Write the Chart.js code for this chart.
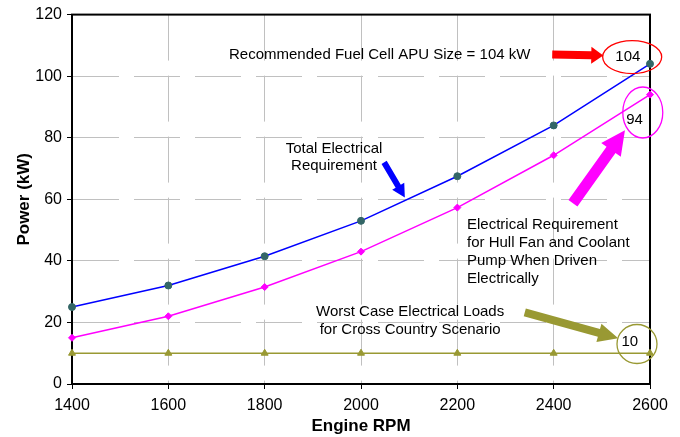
<!DOCTYPE html>
<html>
<head>
<meta charset="utf-8">
<script src="https://cdn.jsdelivr.net/npm/chart.js@4/dist/chart.umd.min.js"></script>
<style>
  html, body { margin: 0; padding: 0; background: #fff; }
  #chart { display: block; }
</style>
</head>
<body>
<canvas id="chart" width="680" height="437"></canvas>
<script>
// data
var rpm = [1400, 1600, 1800, 2000, 2200, 2400, 2600];
var totalElectrical = [25, 32, 41.5, 53, 67.5, 84, 104];
var hullFanCoolant = [15, 22, 31.5, 43, 57.3, 74.3, 94];
var worstCaseLoads = [10, 10, 10, 10, 10, 10, 10];
var yTicks = [0, 20, 40, 60, 80, 100, 120];

var FONT = "'Liberation Sans', Arial, sans-serif";

function toPoints(values) {
    return rpm.map(function (r, i) { return { x: r, y: values[i] }; });
}

// callouts, placed in data units (x = rpm, y = kW)
var callouts = [
    { type: 'text', x: 1726, y: 107, lines: ['Recommended Fuel Cell APU Size = 104 kW'], align: 'left' },
    { type: 'arrow', x1: 2397, y1: 107, x2: 2503, y2: 106.7, color: '#FF0000', shaft: 8, head: 17, len: 12 },
    { type: 'ellipse', x: 2563, y: 106.2, rx: 29.5, ry: 16.5, color: '#FF0000' },
    { type: 'text', x: 2554, y: 106.4, lines: ['104'], align: 'center' },

    { type: 'text', x: 1944, y: 76.5, lines: ['Total Electrical', 'Requirement'], align: 'center' },
    { type: 'arrow', x1: 2048, y1: 72, x2: 2091, y2: 60.6, color: '#0000FF', shaft: 6, head: 14, len: 13 },

    { type: 'ellipse', x: 2585, y: 88.2, rx: 20, ry: 25.5, color: '#FF00FF' },
    { type: 'text', x: 2568, y: 85.9, lines: ['94'], align: 'center' },
    { type: 'arrow', x1: 2440, y1: 58.7, x2: 2548, y2: 82.4, color: '#FF00FF', shaft: 11, head: 24, len: 24 },
    { type: 'text', x: 2220, y: 51.6, lines: ['Electrical Requirement', 'for Hull Fan and Coolant', 'Pump When Driven', 'Electrically'], align: 'left' },

    { type: 'text', x: 2102, y: 23.3, lines: ['Worst Case Electrical Loads', 'for Cross Country Scenario'], align: 'center' },
    { type: 'arrow', x1: 2340, y1: 23.3, x2: 2534, y2: 14.9, color: '#999933', shaft: 8, head: 19, len: 20 },
    { type: 'ellipse', x: 2573, y: 13, rx: 20, ry: 19.5, color: '#999933' },
    { type: 'text', x: 2558, y: 13.6, lines: ['10'], align: 'center' }
];

function drawArrow(ctx, ax, ay, bx, by, c) {
    var dx = bx - ax, dy = by - ay;
    var L = Math.sqrt(dx * dx + dy * dy);
    var ux = dx / L, uy = dy / L;
    var nx = -uy, ny = ux;
    var hx = bx - ux * c.len, hy = by - uy * c.len;
    var s = c.shaft / 2, h = c.head / 2;
    ctx.beginPath();
    ctx.moveTo(ax + nx * s, ay + ny * s);
    ctx.lineTo(hx + nx * s, hy + ny * s);
    ctx.lineTo(hx + nx * h, hy + ny * h);
    ctx.lineTo(bx, by);
    ctx.lineTo(hx - nx * h, hy - ny * h);
    ctx.lineTo(hx - nx * s, hy - ny * s);
    ctx.lineTo(ax - nx * s, ay - ny * s);
    ctx.closePath();
    ctx.fillStyle = c.color;
    ctx.fill();
}

var framePlugin = {
    id: 'frame',
    beforeDatasetsDraw: function (chart) {
        var a = chart.chartArea, ctx = chart.ctx;
        ctx.save();
        ctx.strokeStyle = '#000';
        ctx.lineWidth = 2;
        ctx.strokeRect(a.left, a.top, a.right - a.left, a.bottom - a.top);
        ctx.restore();
    }
};

var calloutPlugin = {
    id: 'callouts',
    afterDatasetsDraw: function (chart) {
        var ctx = chart.ctx;
        var xs = chart.scales.x, ys = chart.scales.y;
        ctx.save();
        callouts.forEach(function (c) {
            if (c.type === 'text') {
                ctx.font = '15px ' + FONT;
                ctx.fillStyle = '#000';
                ctx.textAlign = c.align;
                ctx.textBaseline = 'middle';
                var px = xs.getPixelForValue(c.x), py = ys.getPixelForValue(c.y);
                c.lines.forEach(function (t, i) { ctx.fillText(t, px, py + i * 17.8); });
            } else if (c.type === 'arrow') {
                drawArrow(ctx, xs.getPixelForValue(c.x1), ys.getPixelForValue(c.y1),
                    xs.getPixelForValue(c.x2), ys.getPixelForValue(c.y2), c);
            } else if (c.type === 'ellipse') {
                ctx.beginPath();
                ctx.ellipse(xs.getPixelForValue(c.x), ys.getPixelForValue(c.y), c.rx, c.ry, 0, 0, Math.PI * 2);
                ctx.strokeStyle = c.color;
                ctx.lineWidth = 1.3;
                ctx.stroke();
            }
        });
        ctx.restore();
    }
};

new Chart(document.getElementById('chart'), {
    type: 'line',
    data: {
        datasets: [{
            label: 'Total Electrical Requirement',
            data: toPoints(totalElectrical),
            borderColor: '#0000FF',
            borderWidth: 1.5,
            pointStyle: 'circle',
            pointRadius: 3.5,
            pointBackgroundColor: '#336666',
            pointBorderColor: '#336666',
            pointBorderWidth: 1
        }, {
            label: 'Hull Fan and Coolant Pump',
            data: toPoints(hullFanCoolant),
            borderColor: '#FF00FF',
            borderWidth: 1.5,
            pointStyle: 'rectRot',
            pointRadius: 3.5,
            pointBackgroundColor: '#FF00FF',
            pointBorderColor: '#FF00FF',
            pointBorderWidth: 1
        }, {
            label: 'Worst Case Electrical Loads',
            data: toPoints(worstCaseLoads),
            borderColor: '#999933',
            borderWidth: 1.5,
            pointStyle: 'triangle',
            pointRadius: 4,
            pointBackgroundColor: '#999933',
            pointBorderColor: '#999933',
            pointBorderWidth: 1
        }]
    },
    options: {
        responsive: false,
        animation: false,
        devicePixelRatio: 1,
        clip: false,
        layout: { padding: { left: 4, top: 14, right: 30, bottom: 0 } },
        plugins: {
            legend: { display: false },
            tooltip: { enabled: false }
        },
        scales: {
            x: {
                type: 'linear',
                min: rpm[0],
                max: rpm[rpm.length - 1],
                afterFit: function (s) { s.height = 53; },
                ticks: {
                    stepSize: 200,
                    padding: 7,
                    color: '#000',
                    font: { family: FONT, size: 16 },
                    callback: function (v) { return String(v); }
                },
                grid: { color: '#c0c0c0', lineWidth: 1, tickLength: 5, tickColor: '#000', tickBorderDash: [] },
                border: { color: '#000', width: 2, dash: [46, 15] },
                title: {
                    display: true,
                    text: 'Engine RPM',
                    color: '#000',
                    font: { family: FONT, size: 17, weight: 'bold' },
                    padding: { top: 0, bottom: 0 }
                }
            },
            y: {
                min: yTicks[0],
                max: yTicks[yTicks.length - 1],
                afterFit: function (s) { s.width = 68; },
                afterBuildTicks: function (s) { s.ticks = yTicks.map(function (v) { return { value: v }; }); },
                ticks: {
                    padding: 5,
                    color: '#000',
                    font: { family: FONT, size: 16 }
                },
                grid: { color: '#c0c0c0', lineWidth: 1, tickLength: 5, tickColor: '#000', tickBorderDash: [] },
                border: { color: '#000', width: 2, dash: [46, 15] },
                title: {
                    display: true,
                    text: 'Power (kW)',
                    color: '#000',
                    font: { family: FONT, size: 17, weight: 'bold' },
                    padding: { top: 10, bottom: 0 }
                }
            }
        }
    },
    plugins: [framePlugin, calloutPlugin]
});
</script>
</body>
</html>
